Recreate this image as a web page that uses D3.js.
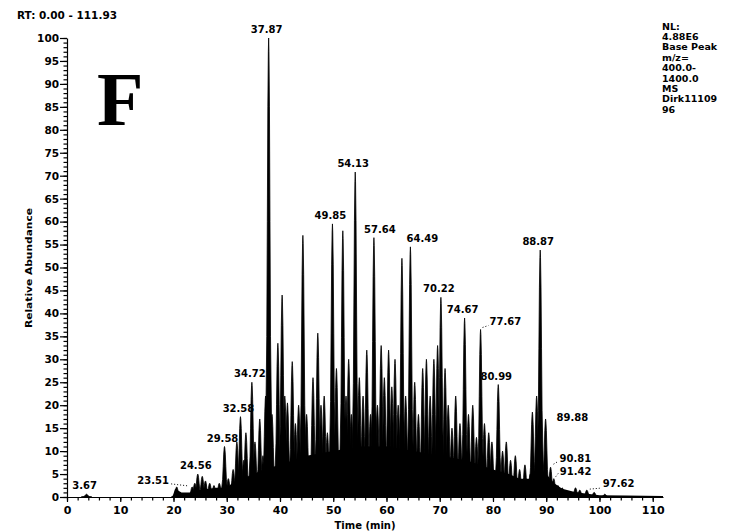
<!DOCTYPE html>
<html>
<head>
<meta charset="utf-8">
<script src="https://cdn.jsdelivr.net/npm/d3@7"></script>
<style>
  body { margin: 0; background: #fff; }
  text { font-family: "DejaVu Sans", sans-serif; font-weight: bold; fill: #000; }
</style>
</head>
<body>
<div id="chart"></div>
<script>
// run range + header text
var rtRange = [0, 111.93];
var headerText = "RT: 0.00 - 111.93";
var infoLines = ["NL:", "4.88E6", "Base Peak", "m/z=", "400.0-", "1400.0", "MS", "Dirk11109", "96"];
var panelLetter = "F";

var xTicks = [0, 10, 20, 30, 40, 50, 60, 70, 80, 90, 100, 110];
var yTicks = [0, 5, 10, 15, 20, 25, 30, 35, 40, 45, 50, 55, 60, 65, 70, 75, 80, 85, 90, 95, 100];

// labelled peaks (retention time, relative abundance)
var labelTimes   = [3.67, 23.51, 24.56, 29.58, 32.58, 34.72, 37.87, 49.85, 54.13, 57.64, 64.49, 70.22, 74.67, 77.67, 80.99, 88.87, 89.88, 90.81, 91.42, 97.62];
var labelHeights = [0.6,  2.2,   5,     11,    17.5,  25,    100,   59.5,  70.8,  56.5,  54.5,  43.5,  39,    36.5,  24.5,  53.8,  17,    6.5,   4,     1.5];

// unlabelled peaks
var minorTimes   = [20.6, 24.0, 25.4, 26.0, 26.8, 27.6, 28.6, 30.3, 31.2, 31.9, 33.2, 33.6, 35.3, 36.2, 36.8, 37.3, 38.5, 39.6, 40.4, 40.9, 41.4, 42.3, 42.9, 43.5, 44.3, 45.0, 46.2, 47.1, 47.7, 48.3, 48.9, 50.6, 51.8, 52.4, 52.9, 53.4, 54.9, 55.6, 56.3, 57.0, 58.3, 59.0, 59.6, 60.4, 61.0, 61.6, 62.2, 62.9, 63.6, 65.3, 66.0, 66.8, 67.5, 68.2, 68.9, 69.6, 71.0, 71.6, 72.3, 73.0, 73.8, 75.4, 76.2, 76.9, 78.4, 79.2, 79.8, 81.8, 82.5, 83.3, 84.2, 85.0, 86.0, 87.0, 87.4, 88.2, 92.2, 93.0, 95.5, 96.3, 99.0, 101.0];
var minorHeights = [2.2,  3,    4.5,  3.5,  3,    2.5,  3,    4,    6,    12,   8,    14,   12,   17,   9,    22,   18,   33.5, 44,   22,   20.5, 29.5, 16,   20,   57,   18,   26,   35.7, 20,   22,   14,   28,   58,   22,   30,   18,   26,   22,   32,   18,   20,   33,   26,   32,   24,   30,   20,   52,   22,   25,   18,   28,   30,   22,   30,   33,   28,   20,   15,   22,   16,   18,   20,   13,   16,   14,   12,   10,   12,   8,    9,    6,    7,    5,    18.5, 22,   2.5,  2,    2,    1.5,  1,    0.6];

// floor of the unresolved hump under the peaks
var baseTimes  = [0, 19.8, 20.3, 21.5, 23, 25, 28, 30, 31, 33, 35, 37, 40, 45, 50, 55, 60, 65, 70, 75, 80, 83, 85, 87, 88, 90, 91.5, 93, 95, 97, 100, 105, 111.93];
var baseLevels = [0, 0,    1.8,  1,    1,  1.5, 2, 2, 3,  4,  5,  6,  7,  9,  10, 11, 11, 10, 9,  8,  6,  5,  4,  4,  6,  5,  3,    1.8, 1.2, 0.8, 0.4, 0.3, 0.2];

class CHROMA {
  constructor(target_div_id, w, h)
  {
    this.target_div = target_div_id;
    this.w = w;
    this.h = h;
    this.SVG = "None";
    this.G;
    this.x = d3.scaleLinear().domain(rtRange).range([67, 663]);
    this.y = d3.scaleLinear().domain([0, 100]).range([497, 38]);
  }

  baseSVG()
  {
    this.SVG = d3.select("#".concat(this.target_div))
      .append("svg")
        .attr("width", this.w)
        .attr("height", this.h);
    this.G = this.SVG.append("g");
    this.G.append("rect")
      .attr("width", this.w)
      .attr("height", this.h)
      .attr("fill", "white");
  }

  writeTrace()
  {
    var x = this.x, y = this.y;
    var hump = d3.area()
      .x(function(d){ return x(d[0]); })
      .y0(y(0))
      .y1(function(d){ return y(d[1]); });
    this.G.append("path")
      .datum(d3.zip(baseTimes, baseLevels))
      .attr("d", hump)
      .attr("fill", "black");

    // peak outline: offsets in minutes, fraction of height
    var shape = [[-1.0, 0], [-0.55, 0.15], [-0.35, 0.35], [-0.25, 0.6], [-0.15, 0.85], [-0.06, 0.97], [0, 1],
                 [0.06, 0.97], [0.15, 0.85], [0.25, 0.6], [0.35, 0.35], [0.55, 0.15], [1.0, 0]];
    var line = d3.line()
      .x(function(d){ return x(d[0]); })
      .y(function(d){ return y(d[1]); });
    var peaks = d3.zip(minorTimes, minorHeights).concat(d3.zip(labelTimes, labelHeights));
    this.G.append("g").selectAll("path")
      .data(peaks)
      .join("path")
        .attr("d", function(p){
          return line(shape.map(function(s){ return [p[0] + s[0], p[1] * s[1]]; })) + "Z";
        })
        .attr("fill", "black")
        .attr("stroke", "black")
        .attr("stroke-width", 0.8)
        .attr("stroke-linejoin", "round");
  }

  writeAxes()
  {
    var x = this.x, y = this.y;
    var minorX = d3.range(0, 112, 2);
    var minorY = d3.range(0, 101, 1);

    this.G.append("g")
      .attr("transform", "translate(0," + y(0) + ")")
      .call(d3.axisBottom(x).tickValues(minorX).tickSize(3.5).tickFormat(""))
      .call(function(g){ g.select(".domain").remove(); });
    var xa = this.G.append("g")
      .attr("transform", "translate(0," + y(0) + ")")
      .call(d3.axisBottom(x).tickValues(xTicks).tickSize(5).tickPadding(4).tickSizeOuter(0));
    xa.selectAll("text").style("font-size", "11px").attr("fill", "black");

    this.G.append("g")
      .attr("transform", "translate(" + x(0) + ",0)")
      .call(d3.axisLeft(y).tickValues(minorY).tickSize(3.5).tickFormat(""))
      .call(function(g){ g.select(".domain").remove(); });
    var ya = this.G.append("g")
      .attr("transform", "translate(" + x(0) + ",0)")
      .call(d3.axisLeft(y).tickValues(yTicks).tickSize(7).tickPadding(1).tickSizeOuter(0));
    ya.selectAll("text").style("font-size", "10.5px").attr("fill", "black");

    this.G.selectAll(".domain, .tick line").attr("stroke", "black").attr("stroke-width", 1.2);

    this.G.append("text")
      .attr("x", 365)
      .attr("y", 529)
      .attr("text-anchor", "middle")
      .style("font-size", "10px")
      .text("Time (min)");

    this.G.append("text")
      .attr("transform", "translate(32,268) rotate(-90)")
      .attr("text-anchor", "middle")
      .attr("textLength", 120)
      .attr("lengthAdjust", "spacingAndGlyphs")
      .style("font-size", "9.5px")
      .text("Relative Abundance");
  }

  writeHeader()
  {
    this.G.append("text")
      .attr("x", 17)
      .attr("y", 19)
      .attr("textLength", 100)
      .attr("lengthAdjust", "spacingAndGlyphs")
      .style("font-size", "10px")
      .text(headerText);

    for(var p = 0; p < infoLines.length; p++)
    {
      this.G.append("text")
        .attr("x", 662)
        .attr("y", 29.5 + p * 10.4)
        .style("font-size", "9.5px")
        .text(infoLines[p]);
    }

    this.G.append("text")
      .attr("x", 97)
      .attr("y", 125)
      .style("font-family", "'Liberation Serif', serif")
      .style("font-weight", "bold")
      .style("font-size", "76px")
      .text(panelLetter);
  }

  writeLabels()
  {
    var x = this.x, y = this.y;
    // crowded labels are pushed aside and joined by a dotted lead
    var moved = {
      "23.51": {dx: -39, dy: -3, anchor: "middle", lead: [-21, -3, -4, -1]},
      "57.64": {dx: 6, dy: -5, anchor: "middle"},
      "64.49": {dx: 12, dy: -5, anchor: "middle"},
      "77.67": {dx: 9, dy: -4, anchor: "start", lead: [2, -2, 8, -4]},
      "89.88": {dx: 11, dy: 2, anchor: "start"},
      "90.81": {dx: 9, dy: -5, anchor: "start", lead: [3, -3, 8, -6]},
      "91.42": {dx: 6, dy: -4, anchor: "start", lead: [2, -2, 5, -6]},
      "97.62": {dx: 16, dy: -3, anchor: "start", lead: [3, -1, 14, -2]}
    };

    for(var p = 0; p < labelTimes.length; p++)
    {
      var name = labelTimes[p].toFixed(2);
      var px = x(labelTimes[p]);
      var py = y(labelHeights[p]);
      var m = moved[name] || {dx: -2, dy: -5, anchor: "middle"};
      this.G.append("text")
        .attr("x", px + m.dx)
        .attr("y", py + m.dy)
        .attr("text-anchor", m.anchor)
        .style("font-size", "10px")
        .text(name);
      if(m.lead)
      {
        this.G.append("line")
          .attr("x1", px + m.lead[0]).attr("y1", py + m.lead[1])
          .attr("x2", px + m.lead[2]).attr("y2", py + m.lead[3])
          .attr("stroke", "black")
          .attr("stroke-width", 1)
          .attr("stroke-dasharray", "1,2");
      }
    }
  }
}

var chart = new CHROMA("chart", 741, 532);
chart.baseSVG();
chart.writeTrace();
chart.writeAxes();
chart.writeHeader();
chart.writeLabels();
</script>
</body>
</html>
